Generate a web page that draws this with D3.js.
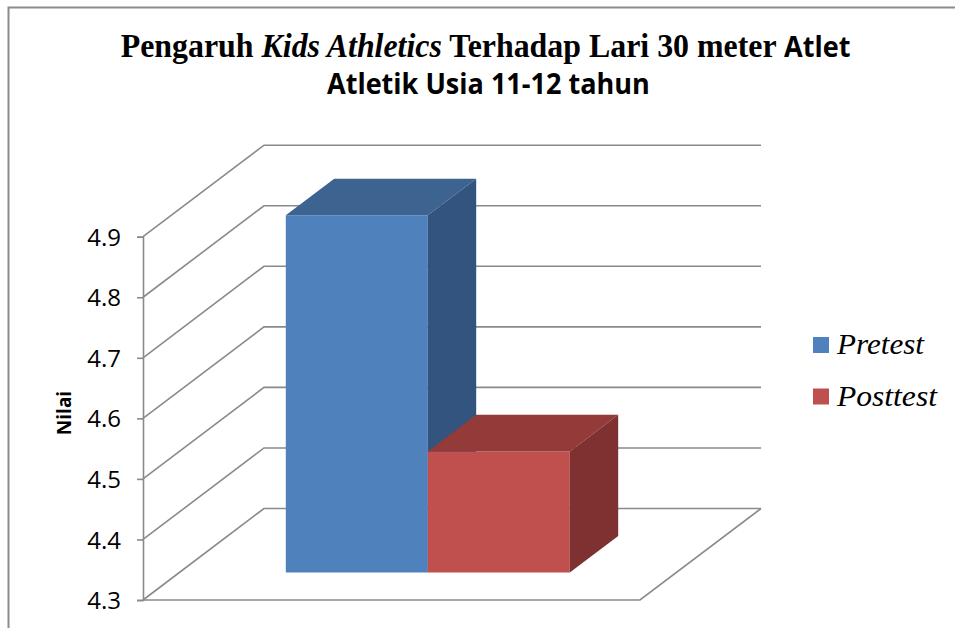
<!DOCTYPE html>
<html>
<head>
<meta charset="utf-8">
<script src="https://cdn.jsdelivr.net/npm/d3@7"></script>
<style>
  html, body { margin: 0; padding: 0; background: #fff; }
  svg { display: block; }
</style>
</head>
<body>
<svg id="chart" width="955" height="628"></svg>
<script>
// Chart data
const categories = ["Lari 30 meter"];
const seriesNames = ["Pretest", "Posttest"];
const seriesValues = [4.89, 4.50];
const tickValues = [4.3, 4.4, 4.5, 4.6, 4.7, 4.8, 4.9];
const tickLabels = ["4.3", "4.4", "4.5", "4.6", "4.7", "4.8", "4.9"];
const axisTitle = "Nilai";

const colors = {
  Pretest:  { front: "#4F81BD", top: "#3D6491", side: "#33547F" },
  Posttest: { front: "#C0504D", top: "#943A39", side: "#7E3130" }
};

const svg = d3.select("#chart");
const W = 955, H = 628;

svg.append("rect").attr("width", W).attr("height", H).attr("fill", "#fff");

// Outer chart border (left and top visible)
svg.append("path")
  .attr("d", `M8.5,${H} L8.5,7.5 L${W},7.5`)
  .attr("fill", "none").attr("stroke", "#8c8c8c").attr("stroke-width", 2);

// Oblique 3D projection: front plane + depth vector
const front = { left: 143, right: 640 };
const depthVec = { dx: 121, dy: -91.5 };
const y = d3.scaleLinear().domain([4.3, 4.9]).range([600, 236.7]);
const proj = (px, py, d) => [px + depthVec.dx * d, py + depthVec.dy * d];

// Clustered bars: gap width 150%, gap depth 150%
const x = d3.scaleBand().domain(seriesNames)
  .range([front.left, front.right]).paddingInner(0).paddingOuter(0.75);
const d0 = 0.3, d1 = 0.7;

const gridColor = "#8a8a8a";
const grid = svg.append("g").attr("fill", "none").attr("stroke", gridColor).attr("stroke-width", 1.6);

// Side wall + back wall gridlines
tickValues.forEach(v => {
  const a = proj(front.left, y(v), 0);
  const b = proj(front.left, y(v), 1);
  const c = proj(front.right, y(v), 1);
  grid.append("path").attr("d", d3.line()([a, b, c]));
});

// Floor front and right edges
const f0 = proj(front.left, y(4.3), 0), f1 = proj(front.right, y(4.3), 0), f2 = proj(front.right, y(4.3), 1);
grid.append("path").attr("d", d3.line()([f0, f1, f2]));

// Value axis
const axis = d3.axisLeft(y).tickValues(tickValues)
  .tickFormat((d, i) => tickLabels[i]).tickSize(6).tickPadding(16);
const axisG = svg.append("g").attr("transform", `translate(${front.left},0)`).call(axis);
axisG.select(".domain").attr("stroke", gridColor).attr("stroke-width", 1.6);
axisG.selectAll(".tick line").attr("stroke", gridColor).attr("stroke-width", 1.6);
axisG.selectAll(".tick text")
  .attr("font-family", "'Open Sans', sans-serif").attr("font-size", 24)
  .attr("fill", "#000").attr("dy", "0.36em");

// Axis title
svg.append("text")
  .attr("transform", "translate(71,413) rotate(-90)")
  .attr("text-anchor", "middle")
  .attr("font-family", "'Open Sans', sans-serif").attr("font-weight", "bold")
  .attr("font-size", 19).attr("fill", "#000")
  .text(axisTitle);

// Bars as prisms
const bars = svg.append("g");
const poly = pts => "M" + pts.map(p => p.join(",")).join("L") + "Z";
seriesNames.forEach((s, i) => {
  const v = seriesValues[i];
  const xl = x(s), xr = x(s) + x.bandwidth();
  const yb = y(4.3), yt = y(v);
  const c = colors[s];
  bars.append("path").attr("d", poly([proj(xl, yt, d0), proj(xr, yt, d0), proj(xr, yb, d0), proj(xl, yb, d0)]))
    .attr("fill", c.front);
  bars.append("path").attr("d", poly([proj(xl, yt, d0), proj(xr, yt, d0), proj(xr, yt, d1), proj(xl, yt, d1)]))
    .attr("fill", c.top);
  bars.append("path").attr("d", poly([proj(xr, yt, d0), proj(xr, yt, d1), proj(xr, yb, d1), proj(xr, yb, d0)]))
    .attr("fill", c.side);
});

// Text fitted horizontally to a given width
function fitWidth(sel, target, left) {
  const w = sel.node().getComputedTextLength();
  const k = target / w;
  sel.attr("transform", `translate(${left},0) scale(${k},1)`);
}

// Title
const serif = "'Liberation Serif', 'Times New Roman', serif";
const sans = "'Open Sans', sans-serif";
const t1 = svg.append("text").attr("x", 0).attr("y", 57.5)
  .attr("font-weight", "bold").attr("fill", "#000");
t1.append("tspan").attr("font-family", serif).attr("font-size", 33).text("Pengaruh ");
t1.append("tspan").attr("font-family", serif).attr("font-size", 33).attr("font-style", "italic").text("Kids Athletics");
t1.append("tspan").attr("font-family", serif).attr("font-size", 33).text(" Terhadap Lari 30 meter ");
t1.append("tspan").attr("font-family", sans).attr("font-size", 28).text("Atlet");
fitWidth(t1, 730, 120.7);

const t2 = svg.append("text").attr("x", 0).attr("y", 94.5)
  .attr("font-family", sans).attr("font-weight", "bold")
  .attr("font-size", 28).attr("fill", "#000")
  .text("Atletik Usia 11-12 tahun");
fitWidth(t2, 323, 327);

// Legend
const legendWidths = [87, 100];
const legend = svg.append("g");
seriesNames.forEach((s, i) => {
  const g = legend.append("g").attr("transform", `translate(813,${337 + i * 51.5})`);
  g.append("rect").attr("width", 16).attr("height", 16).attr("fill", colors[s].front);
  const t = g.append("text").attr("x", 0).attr("y", 17)
    .attr("font-family", serif)
    .attr("font-style", "italic").attr("font-size", 29).attr("fill", "#000")
    .text(s);
  fitWidth(t, legendWidths[i], 24);
});
</script>
</body>
</html>
